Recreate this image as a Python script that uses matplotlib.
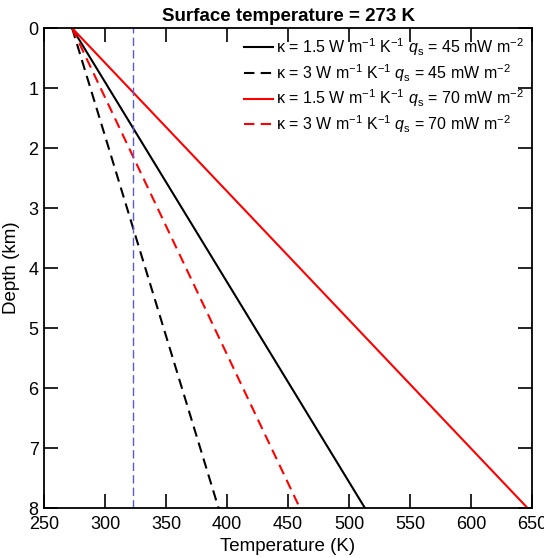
import matplotlib
matplotlib.use("Agg")
import matplotlib.pyplot as plt

plt.rcParams['font.family'] = ['Liberation Sans', 'DejaVu Sans']
plt.rcParams['mathtext.fontset'] = 'custom'
plt.rcParams['mathtext.rm'] = 'Liberation Sans'
plt.rcParams['mathtext.it'] = 'Liberation Sans:italic'

depth_km = [0, 8]
temp_k15_q45 = [273, 513]
temp_k3_q45 = [273, 393]
temp_k15_q70 = [273, 646.3]
temp_k3_q70 = [273, 459.7]
ref_temp = 323

labels = [
    'κ = 1.5 W m$^{-1}$ K$^{-1}$ $q_\\mathrm{s}$ = 45 mW m$^{-2}$',
    'κ = 3 W m$^{-1}$ K$^{-1}$ $q_\\mathrm{s}$ = 45 mW m$^{-2}$',
    'κ = 1.5 W m$^{-1}$ K$^{-1}$ $q_\\mathrm{s}$ = 70 mW m$^{-2}$',
    'κ = 3 W m$^{-1}$ K$^{-1}$ $q_\\mathrm{s}$ = 70 mW m$^{-2}$',
]

fig = plt.figure(figsize=(5.44, 5.58), dpi=100)
ax = fig.add_axes([0.081, 0.0896, 0.897, 0.860])

ax.plot(temp_k15_q45, depth_km, color='black', lw=1.5, label=labels[0])
ax.plot(temp_k3_q45, depth_km, color='black', lw=1.5, ls=(0, (5, 3)), label=labels[1])
ax.plot(temp_k15_q70, depth_km, color='red', lw=1.5, label=labels[2])
ax.plot(temp_k3_q70, depth_km, color='red', lw=1.5, ls=(0, (5, 3)), label=labels[3])
ax.axvline(ref_temp, color='#5a5ad8', lw=1.0, ls=(0, (6, 3)))

ax.set_xlim(250, 650)
ax.set_ylim(8, 0)
ax.set_xticks(range(250, 651, 50))
ax.set_yticks(range(0, 9))
ax.tick_params(direction='in', top=True, right=True, length=10, width=1.2, labelsize=13)
ax.tick_params(axis='x', pad=6)
ax.tick_params(axis='y', pad=4)
for s in ax.spines.values():
    s.set_linewidth(1.3)

ax.set_xlabel('Temperature (K)', fontsize=13.5, labelpad=3)
ax.set_ylabel('Depth (km)', fontsize=13.5, labelpad=6)
ax.set_title('Surface temperature = 273 K', fontsize=13.5, fontweight='bold', pad=5)

leg = ax.legend(loc='upper right', frameon=False, fontsize=11.5, handlelength=1.8,
                handletextpad=0.2, labelspacing=0.25, borderaxespad=0.1)

fig.savefig('out.png', dpi=100)
